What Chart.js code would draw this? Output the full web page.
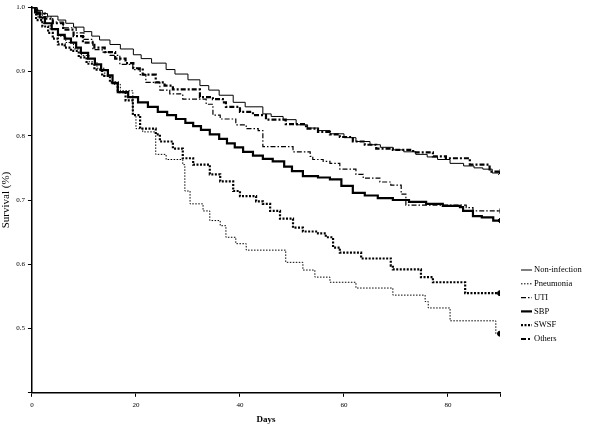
<!DOCTYPE html>
<html>
<head>
<meta charset="utf-8">
<script src="https://cdn.jsdelivr.net/npm/chart.js@4.4.1/dist/chart.umd.min.js"></script>
<style>
  html, body { margin: 0; padding: 0; background: #fff; }
  #wrap { width: 600px; height: 425px; }
</style>
</head>
<body>
<div id="wrap"><canvas id="km"></canvas></div>
<script>
// Kaplan-Meier survival by infection type

const xTicks = [0, 20, 40, 60, 80, 90];
const yTicks = [0.4, 0.5, 0.6, 0.7, 0.8, 0.9, 1.0];

const niDays = [0, 1, 2, 3, 5, 6.5, 8, 10, 11.5, 13, 15, 17, 19.5, 21, 23, 25.8, 27.5, 30, 32.3, 34, 36, 38.7, 41, 44.4, 46, 48.3, 50.8, 53, 55, 57.3, 60, 62.3, 65, 67, 69.4, 71.5, 73.8, 76, 78, 80.4, 83, 85, 86.7, 88.5, 90];
const niSurv = [1.0, 0.995, 0.99, 0.986, 0.98, 0.975, 0.969, 0.962, 0.955, 0.949, 0.942, 0.935, 0.926, 0.92, 0.913, 0.903, 0.896, 0.887, 0.878, 0.871, 0.863, 0.852, 0.845, 0.834, 0.83, 0.825, 0.817, 0.812, 0.808, 0.803, 0.797, 0.791, 0.786, 0.782, 0.778, 0.775, 0.771, 0.767, 0.763, 0.757, 0.753, 0.75, 0.748, 0.742, 0.742];

const pnDays = [0, 1, 2, 3.5, 5, 6.5, 8, 9.5, 11, 12.5, 14, 15.5, 17, 19.4, 20, 21.3, 23.8, 25.8, 29, 29.4, 30.4, 32.9, 34.2, 36.2, 37.3, 39.2, 41.2, 48.8, 52.1, 54.4, 57.3, 62.3, 69.4, 75.6, 76.2, 80.4, 89.2, 90];
const pnSurv = [1.0, 0.985, 0.975, 0.965, 0.955, 0.945, 0.935, 0.925, 0.915, 0.905, 0.893, 0.88, 0.87, 0.832, 0.811, 0.806, 0.771, 0.763, 0.755, 0.714, 0.694, 0.683, 0.668, 0.66, 0.642, 0.632, 0.622, 0.603, 0.591, 0.58, 0.572, 0.563, 0.552, 0.542, 0.532, 0.512, 0.492, 0.492];

const utDays = [0, 1, 2, 4, 6, 8.5, 10, 11.7, 13.5, 15, 16.9, 19.4, 20.8, 21.9, 24.6, 26.5, 29, 33.5, 34.8, 36.2, 39.2, 41.2, 43.5, 44.4, 50.2, 53.5, 54, 56, 57.3, 59.2, 62.3, 63.7, 66.9, 69, 71, 71.9, 83.5, 84.8, 90];
const utSurv = [1.0, 0.99, 0.985, 0.977, 0.968, 0.96, 0.95, 0.934, 0.93, 0.925, 0.911, 0.903, 0.895, 0.883, 0.871, 0.865, 0.857, 0.849, 0.832, 0.826, 0.817, 0.811, 0.808, 0.783, 0.775, 0.768, 0.763, 0.76, 0.757, 0.748, 0.74, 0.734, 0.728, 0.723, 0.709, 0.692, 0.688, 0.683, 0.683];

const sbDays = [0, 0.6, 1.5, 2.5, 3.8, 5, 6.3, 7.5, 8.5, 9.4, 10.8, 12.1, 13.3, 14.6, 15.5, 16.5, 18.5, 20.4, 22.3, 24.2, 26, 27.7, 29.5, 31, 32.5, 34.2, 36, 37.5, 39, 40.6, 42.5, 44.4, 46.3, 48.5, 50, 52.1, 55, 57.3, 59.5, 61.7, 64, 66.5, 69.4, 72.5, 75.8, 79, 82.3, 82.9, 84.8, 86.5, 88.7, 90];
const sbSurv = [1.0, 0.992, 0.984, 0.975, 0.966, 0.957, 0.951, 0.945, 0.937, 0.929, 0.92, 0.911, 0.902, 0.894, 0.882, 0.868, 0.86, 0.852, 0.845, 0.837, 0.832, 0.826, 0.82, 0.815, 0.809, 0.802, 0.795, 0.788, 0.782, 0.775, 0.769, 0.764, 0.76, 0.752, 0.745, 0.737, 0.735, 0.732, 0.722, 0.711, 0.707, 0.703, 0.7, 0.697, 0.694, 0.691, 0.689, 0.683, 0.675, 0.673, 0.668, 0.668];

const swDays = [0, 0.8, 2, 3.1, 4, 5, 6.3, 7.5, 9, 10.5, 12, 13.5, 15, 16.5, 18, 19.4, 20.8, 23.8, 24.6, 27.1, 29, 31, 34.2, 36.2, 38.7, 40, 43.1, 44.4, 45.8, 47.7, 50.2, 52.1, 55, 56.5, 57.9, 59.2, 63.3, 69, 69.4, 74.8, 77.1, 83.3, 90];
const swSurv = [1.0, 0.98, 0.97, 0.96, 0.951, 0.942, 0.937, 0.932, 0.922, 0.912, 0.903, 0.893, 0.883, 0.868, 0.855, 0.832, 0.811, 0.802, 0.791, 0.78, 0.765, 0.755, 0.74, 0.729, 0.714, 0.706, 0.698, 0.694, 0.683, 0.671, 0.657, 0.651, 0.648, 0.642, 0.626, 0.618, 0.609, 0.598, 0.592, 0.58, 0.572, 0.555, 0.555];

const otDays = [0, 1, 2.5, 4, 6, 8, 9.8, 12, 14, 16, 18, 19.5, 21.3, 23.8, 25.5, 27.1, 32.3, 34.8, 36.7, 37.3, 40, 42.5, 45, 48.8, 52.7, 55, 57.3, 59.2, 61.7, 64, 66.2, 69.4, 73.3, 77.1, 79.6, 84.2, 88, 90];
const otSurv = [1.0, 0.99, 0.982, 0.975, 0.965, 0.955, 0.945, 0.937, 0.93, 0.92, 0.913, 0.905, 0.895, 0.883, 0.878, 0.872, 0.86, 0.857, 0.852, 0.845, 0.837, 0.832, 0.825, 0.818, 0.811, 0.806, 0.802, 0.798, 0.791, 0.786, 0.78, 0.778, 0.774, 0.768, 0.765, 0.755, 0.744, 0.744];

const FONT = "'Liberation Serif', 'DejaVu Serif', serif";

const toPoints = (days, surv) => days.map((d, i) => ({ x: d, y: surv[i] }));

// only the last point gets a censor mark
const endMark = (r) => (ctx) => ctx.dataIndex === ctx.dataset.data.length - 1 ? r : 0;

function series(label, days, surv, width, dash, marker) {
  return {
    label,
    data: toPoints(days, surv),
    stepped: true,
    fill: false,
    borderColor: '#000',
    backgroundColor: '#000',
    borderWidth: width,
    borderDash: dash,
    pointStyle: marker,
    pointRadius: endMark(2.5),
    pointBorderWidth: 1,
    pointHoverRadius: 0,
  };
}

// legend drawn to the right of the plot, SPSS style
const sideLegend = {
  id: 'sideLegend',
  afterDraw(chart) {
    const ctx = chart.ctx;
    const x0 = chart.chartArea.right + 21;
    const y0 = 270;
    const rowH = 13.8;
    ctx.save();
    ctx.font = '8.5px ' + FONT;
    ctx.textBaseline = 'middle';
    ctx.fillStyle = '#000';
    chart.data.datasets.forEach((ds, i) => {
      const y = y0 + i * rowH;
      ctx.beginPath();
      ctx.setLineDash(ds.borderDash || []);
      ctx.lineWidth = ds.borderWidth;
      ctx.strokeStyle = '#000';
      ctx.moveTo(x0, y);
      ctx.lineTo(x0 + 11, y);
      ctx.stroke();
      ctx.setLineDash([]);
      ctx.fillText(ds.label, x0 + 13, y);
    });
    ctx.restore();
  },
};

new Chart(document.getElementById('km'), {
  type: 'line',
  data: {
    datasets: [
      series('Non-infection', niDays, niSurv, 1, [], 'crossRot'),
      series('Pneumonia', pnDays, pnSurv, 1, [1.5, 1.5], 'circle'),
      series('UTI', utDays, utSurv, 1.2, [5, 2, 1.5, 2], 'cross'),
      series('SBP', sbDays, sbSurv, 2.2, [], 'rectRot'),
      series('SWSF', swDays, swSurv, 2.2, [2, 1.5], 'circle'),
      series('Others', otDays, otSurv, 2.2, [5, 2, 2, 2], 'cross'),
    ],
  },
  options: {
    responsive: true,
    maintainAspectRatio: false,
    animation: false,
    layout: { padding: { left: 0, right: 100, top: 0, bottom: 0 } },
    plugins: {
      legend: { display: false },
      tooltip: { enabled: false },
    },
    scales: {
      x: {
        type: 'linear',
        min: 0,
        max: 90,
        afterBuildTicks: (scale) => { scale.ticks = xTicks.map(v => ({ value: v })); },
        grid: { drawOnChartArea: false, drawTicks: true, tickLength: 4, color: '#000' },
        border: { display: true, color: '#000', width: 1.5 },
        ticks: {
          color: '#000',
          font: { family: FONT, size: 7 },
          padding: 4,
          maxRotation: 0,
          autoSkip: false,
          callback: (v) => (v === 90 ? '' : String(v)),
        },
        title: {
          display: true,
          text: 'Days',
          color: '#000',
          font: { family: FONT, size: 9, weight: 'bold' },
          padding: { top: 1, bottom: 0 },
        },
      },
      y: {
        type: 'linear',
        min: 0.4,
        max: 1.0,
        afterBuildTicks: (scale) => { scale.ticks = yTicks.map(v => ({ value: v })); },
        grid: { drawOnChartArea: false, drawTicks: true, tickLength: 4, color: '#000' },
        border: { display: true, color: '#000', width: 1.5 },
        ticks: {
          color: '#000',
          font: { family: FONT, size: 7 },
          padding: 3,
          autoSkip: false,
          callback: (v) => (Math.abs(v - 0.4) < 1e-9 ? '' : Number(v).toFixed(1)),
        },
        title: {
          display: true,
          text: 'Survival (%)',
          color: '#000',
          font: { family: FONT, size: 11 },
          padding: { top: 0, bottom: 0 },
        },
      },
    },
  },
  plugins: [sideLegend],
});
</script>
</body>
</html>
